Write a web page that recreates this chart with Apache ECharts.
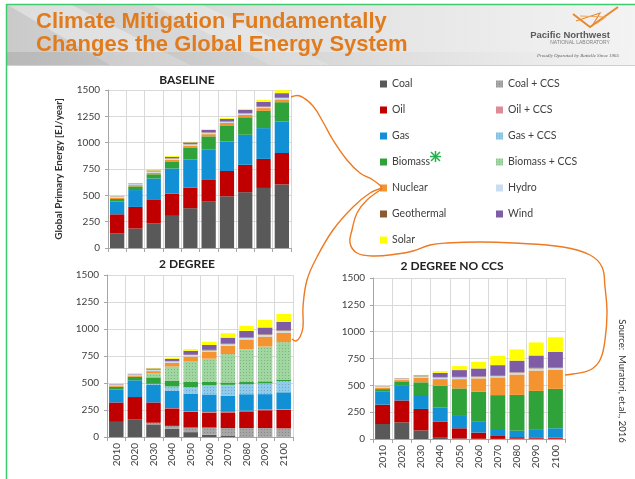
<!DOCTYPE html>
<html>
<head>
<meta charset="utf-8">
<script src="https://cdn.jsdelivr.net/npm/echarts@6/dist/echarts.min.js"></script>
<style>
  html, body { margin: 0; padding: 0; background: #ffffff; }
  #chart { width: 635px; height: 479px; }
</style>
</head>
<body>
<div id="chart"></div>
<script>
// ---- categories and axis ----
const years = ['2010', '2020', '2030', '2040', '2050', '2060', '2070', '2080', '2090', '2100'];
const yMin = 0, yMax = 1500, yStep = 250;

// ---- energy sources (stack order, bottom to top) ----
const sources = ['Coal', 'Coal + CCS', 'Oil', 'Oil + CCS', 'Gas', 'Gas + CCS', 'Biomass',
  'Biomass + CCS', 'Nuclear', 'Hydro', 'Geothermal', 'Wind', 'Solar'];
const sourceColors = ['#595959', '#A6A6A6', '#C00000', '#DC8C98', '#1190D6', '#8FCBEB', '#2FA33A',
  '#A0D6A0', '#F39431', '#C9DDF0', '#8C5A2E', '#7E5CA6', '#FFFF00'];
const hatched = ['Coal + CCS', 'Gas + CCS', 'Biomass + CCS'];

// ---- BASELINE, EJ/year ----
const baseCoal    = [140, 185, 232, 305, 378, 440, 491, 530, 570, 604];
const baseOil     = [180, 205, 230, 212, 195, 206, 240, 260, 276, 298];
const baseGas     = [120, 160, 198, 238, 266, 287, 281, 285, 292, 300];
const baseBiomass = [25, 35, 40, 67, 116, 127, 152, 166, 164, 182];
const baseNuclear = [12, 12, 15, 16, 17, 21, 23, 24, 26, 27];
const baseHydro   = [10, 10, 12, 12, 13, 14, 12, 13, 12, 13];
const baseGeo     = [2, 2, 3, 3, 3, 4, 4, 4, 4, 4];
const baseWind    = [2, 4, 6, 12, 15, 21, 23, 30, 43, 42];
const baseSolar   = [1, 2, 4, 8, 6, 7, 8, 9, 20, 28];

// ---- 2 DEGREE, EJ/year ----
const twoCoal       = [140, 165, 117, 78, 45, 22, 10, 5, 4, 3];
const twoCoalCCS    = [0, 0, 15, 25, 42, 65, 73, 78, 79, 77];
const twoOil        = [180, 205, 188, 162, 145, 140, 145, 155, 165, 170];
const twoOilCCS     = [0, 0, 0, 3, 4, 5, 5, 5, 6, 6];
const twoGas        = [120, 155, 162, 160, 165, 162, 150, 153, 143, 158];
const twoGasCCS     = [0, 0, 10, 40, 60, 84, 100, 93, 100, 104];
const twoBiomass    = [25, 33, 60, 55, 52, 35, 22, 20, 18, 14];
const twoBiomassCCS = [0, 0, 40, 130, 185, 212, 262, 302, 323, 346];
const twoNuclear    = [12, 12, 18, 35, 47, 62, 78, 92, 92, 88];
const twoHydro      = [10, 10, 12, 13, 14, 15, 15, 16, 17, 18];
const twoGeo        = [2, 2, 3, 3, 4, 5, 5, 5, 5, 5];
const twoWind       = [2, 3, 10, 20, 35, 45, 55, 58, 62, 78];
const twoSolar      = [1, 1, 5, 10, 15, 30, 40, 48, 70, 73];

// ---- 2 DEGREE NO CCS, EJ/year ----
const noCoal    = [140, 155, 80, 18, 5, 2, 1, 3, 3, 2];
const noOil     = [180, 204, 200, 143, 95, 58, 27, 14, 12, 10];
const noGas     = [120, 136, 130, 134, 123, 100, 56, 60, 70, 88];
const noBiomass = [25, 42, 118, 201, 248, 280, 325, 334, 363, 367];
const noNuclear = [12, 12, 44, 62, 87, 125, 165, 190, 190, 176];
const noHydro   = [10, 10, 12, 16, 17, 15, 12, 18, 20, 18];
const noGeo     = [2, 2, 3, 4, 4, 4, 4, 4, 5, 5];
const noWind    = [2, 3, 6, 38, 63, 73, 98, 107, 115, 147];
const noSolar   = [1, 1, 4, 16, 37, 62, 87, 105, 122, 135];

// one entry per source, null where a scenario has no such source
const scenarios = [
  [baseCoal, null, baseOil, null, baseGas, null, baseBiomass, null, baseNuclear, baseHydro, baseGeo, baseWind, baseSolar],
  [twoCoal, twoCoalCCS, twoOil, twoOilCCS, twoGas, twoGasCCS, twoBiomass, twoBiomassCCS, twoNuclear, twoHydro, twoGeo, twoWind, twoSolar],
  [noCoal, null, noOil, null, noGas, null, noBiomass, null, noNuclear, noHydro, noGeo, noWind, noSolar]
];

const labelFont = 'Lato, "Noto Sans", sans-serif';
const gridColor = '#D9D9D9';
const axisColor = '#A6A6A6';

const grids = [
  { left: 108, top: 90, width: 183, height: 158 },
  { left: 107, top: 275, width: 186, height: 162 },
  { left: 373, top: 278, width: 192, height: 161 }
];

function makeXAxis(i, showLabels) {
  return {
    type: 'category', gridIndex: i, data: years,
    axisLine: { lineStyle: { color: axisColor } },
    axisTick: { show: true, length: 4, lineStyle: { color: axisColor } },
    splitLine: { show: true, lineStyle: { color: gridColor } },
    axisLabel: { show: showLabels, rotate: 90, margin: 6, fontSize: 10, color: '#404040', fontFamily: labelFont }
  };
}
function makeYAxis(i, name) {
  return {
    type: 'value', gridIndex: i, min: yMin, max: yMax, interval: yStep,
    name: name, nameLocation: 'middle', nameRotate: 90, nameGap: 44,
    nameTextStyle: { fontSize: 10, fontWeight: 'bold', color: '#333', fontFamily: labelFont },
    axisLine: { show: true, lineStyle: { color: axisColor } },
    axisTick: { show: true, length: 3, lineStyle: { color: axisColor } },
    splitLine: { show: true, lineStyle: { color: gridColor } },
    axisLabel: { margin: 8, fontSize: 10, color: '#404040', fontFamily: labelFont,
      formatter: (v) => String(v) }
  };
}

const series = [];
scenarios.forEach((sc, i) => {
  sc.forEach((values, k) => {
    if (!values) return;
    const style = { color: sourceColors[k] };
    if (hatched.indexOf(sources[k]) >= 0) {
      style.decal = { symbol: 'rect', symbolSize: 1, dashArrayX: [1, 2], dashArrayY: [1, 2], color: 'rgba(0,0,0,0.18)' };
    }
    series.push({
      type: 'bar', name: sources[k], xAxisIndex: i, yAxisIndex: i, stack: 'scenario' + i,
      data: values, barCategoryGap: '22%', itemStyle: style,
      emphasis: { disabled: true }
    });
  });
});

// hand-drawn orange links from the legend's Nuclear entry to the 2100 nuclear segments
const orange = '#EE7A22';
const linkToBaseline = [[291, 97], [300, 96], [313, 106], [323, 122], [333, 140], [347, 160], [360, 173], [373, 180], [382, 187]];
const linkToTwoDegree = [[382, 188], [370, 193], [353, 207], [333, 230], [317, 257], [307, 280], [303, 307], [303, 327], [300, 337], [296, 341], [292, 339]];
const linkToNoCcs = [[382, 189], [367, 200], [357, 213], [352, 230], [350, 243], [357, 253], [373, 256], [397, 254], [413, 251], [430, 245],
  [447, 243], [480, 242], [513, 243], [563, 247], [590, 255], [602, 267], [605, 287], [607, 313], [605, 340], [600, 360], [590, 370], [573, 374], [565, 375]];

const graphics = [
  // slide frame and header band
  { type: 'rect', z: -10, shape: { x: 6, y: 4, width: 629, height: 61 },
    style: { fill: new echarts.graphic.LinearGradient(0, 0, 1, 0, [
      { offset: 0, color: '#CACACA' }, { offset: 0.45, color: '#E0E0E0' }, { offset: 1, color: '#F3F3F3' }]) } },
  { type: 'polygon', z: -9, shape: { points: [[6, 4], [70, 4], [190, 65], [110, 65]] }, style: { fill: 'rgba(255,255,255,0.35)' } },
  { type: 'polygon', z: -9, shape: { points: [[150, 4], [200, 4], [330, 65], [270, 65]] }, style: { fill: 'rgba(255,255,255,0.25)' } },
  { type: 'rect', z: -9, shape: { x: 6, y: 52, width: 629, height: 13 },
    style: { fill: new echarts.graphic.LinearGradient(0, 0, 1, 0, [
      { offset: 0, color: 'rgba(150,150,150,0.35)' }, { offset: 0.6, color: 'rgba(180,180,180,0.15)' }, { offset: 1, color: 'rgba(200,200,200,0)' }]) } },
  { type: 'line', z: -8, shape: { x1: 6, y1: 65.5, x2: 635, y2: 65.5 }, style: { stroke: '#D0D0D0', lineWidth: 1 } },
  { type: 'line', z: 50, shape: { x1: 6, y1: 4.5, x2: 635, y2: 4.5 }, style: { stroke: '#3DCB6E', lineWidth: 1.5 } },
  { type: 'line', z: 50, shape: { x1: 6.5, y1: 4, x2: 6.5, y2: 479 }, style: { stroke: '#3DCB6E', lineWidth: 1.5 } },

  // slide title
  { type: 'text', x: 36, y: 22, style: { text: 'Climate Mitigation Fundamentally', font: 'bold 22px "Liberation Sans", Arial, sans-serif', fill: '#E07C1E', verticalAlign: 'middle' } },
  { type: 'text', x: 36, y: 45, style: { text: 'Changes the Global Energy System', font: 'bold 22px "Liberation Sans", Arial, sans-serif', fill: '#E07C1E', verticalAlign: 'middle' } },

  // laboratory mark
  { type: 'polyline', shape: { points: [[573, 14], [590, 27], [618, 7]] }, style: { stroke: '#E8892F', lineWidth: 2, fill: null } },
  { type: 'polyline', shape: { points: [[576, 21], [600, 13], [592, 26]] }, style: { stroke: '#E8892F', lineWidth: 1.2, fill: null } },
  { type: 'polyline', shape: { points: [[580, 16], [606, 17], [596, 24]] }, style: { stroke: '#F0A45A', lineWidth: 1, fill: null } },
  { type: 'text', x: 570, y: 35, style: { text: 'Pacific Northwest', font: 'bold 9.5px "Liberation Sans", Arial, sans-serif', fill: '#5A5A5A', align: 'center', verticalAlign: 'middle' } },
  { type: 'text', x: 580, y: 43, style: { text: 'NATIONAL LABORATORY', font: '5px "Liberation Sans", Arial, sans-serif', fill: '#808080', align: 'center', verticalAlign: 'middle' } },
  { type: 'text', x: 578, y: 56, style: { text: 'Proudly Operated by Battelle Since 1965', font: 'italic 5px "Liberation Serif", serif', fill: '#606060', align: 'center', verticalAlign: 'middle' } },

  // panel titles
  { type: 'text', x: 187, y: 80, style: { text: 'BASELINE', font: 'bold 12px ' + labelFont, fill: '#222', align: 'center', verticalAlign: 'middle' } },
  { type: 'text', x: 187, y: 264, style: { text: '2 DEGREE', font: 'bold 12px ' + labelFont, fill: '#222', align: 'center', verticalAlign: 'middle' } },
  { type: 'text', x: 452, y: 266, style: { text: '2 DEGREE NO CCS', font: 'bold 12px ' + labelFont, fill: '#222', align: 'center', verticalAlign: 'middle' } },

  // source note
  { type: 'text', x: 622, y: 381, rotation: -Math.PI / 2,
    style: { text: 'Source:  Muratori, et.al., 2016', font: '9.5px ' + labelFont, fill: '#333', align: 'center', verticalAlign: 'middle' } },

  // annotations
  { type: 'polyline', z: 100, shape: { points: linkToBaseline, smooth: 0.4 }, style: { stroke: orange, lineWidth: 1.4, fill: null } },
  { type: 'polyline', z: 100, shape: { points: linkToTwoDegree, smooth: 0.4 }, style: { stroke: orange, lineWidth: 1.4, fill: null } },
  { type: 'polyline', z: 100, shape: { points: linkToNoCcs, smooth: 0.4 }, style: { stroke: orange, lineWidth: 1.4, fill: null } },
  { type: 'line', z: 100, shape: { x1: 431, y1: 152, x2: 440, y2: 161 }, style: { stroke: '#22B04B', lineWidth: 1.5 } },
  { type: 'line', z: 100, shape: { x1: 440, y1: 152, x2: 431, y2: 161 }, style: { stroke: '#22B04B', lineWidth: 1.5 } },
  { type: 'line', z: 100, shape: { x1: 435.5, y1: 151, x2: 435.5, y2: 162 }, style: { stroke: '#22B04B', lineWidth: 1.5 } },
  { type: 'line', z: 100, shape: { x1: 430, y1: 156.5, x2: 441, y2: 156.5 }, style: { stroke: '#22B04B', lineWidth: 1.5 } }
];

const legendText = { fontSize: 10.5, color: '#404040', fontFamily: labelFont, lineHeight: 14 };

const option = {
  animation: false,
  backgroundColor: '#ffffff',
  color: sourceColors,
  grid: grids,
  xAxis: [makeXAxis(0, false), makeXAxis(1, true), makeXAxis(2, true)],
  yAxis: [makeYAxis(0, 'Global Primary Energy [EJ/year]'), makeYAxis(1, ''), makeYAxis(2, '')],
  legend: [
    { orient: 'vertical', left: 375, top: 72, itemWidth: 7, itemHeight: 7, itemGap: 12, icon: 'rect',
      selectedMode: false, textStyle: legendText,
      data: ['Coal', 'Oil', 'Gas', 'Biomass', 'Nuclear', 'Geothermal', 'Solar'] },
    { orient: 'vertical', left: 491, top: 72, itemWidth: 7, itemHeight: 7, itemGap: 12, icon: 'rect',
      selectedMode: false, textStyle: legendText,
      data: ['Coal + CCS', 'Oil + CCS', 'Gas + CCS', 'Biomass + CCS', 'Hydro', 'Wind'] }
  ],
  graphic: graphics,
  series: series
};

const chart = echarts.init(document.getElementById('chart'), null, { renderer: 'canvas' });
chart.setOption(option);
</script>
</body>
</html>
